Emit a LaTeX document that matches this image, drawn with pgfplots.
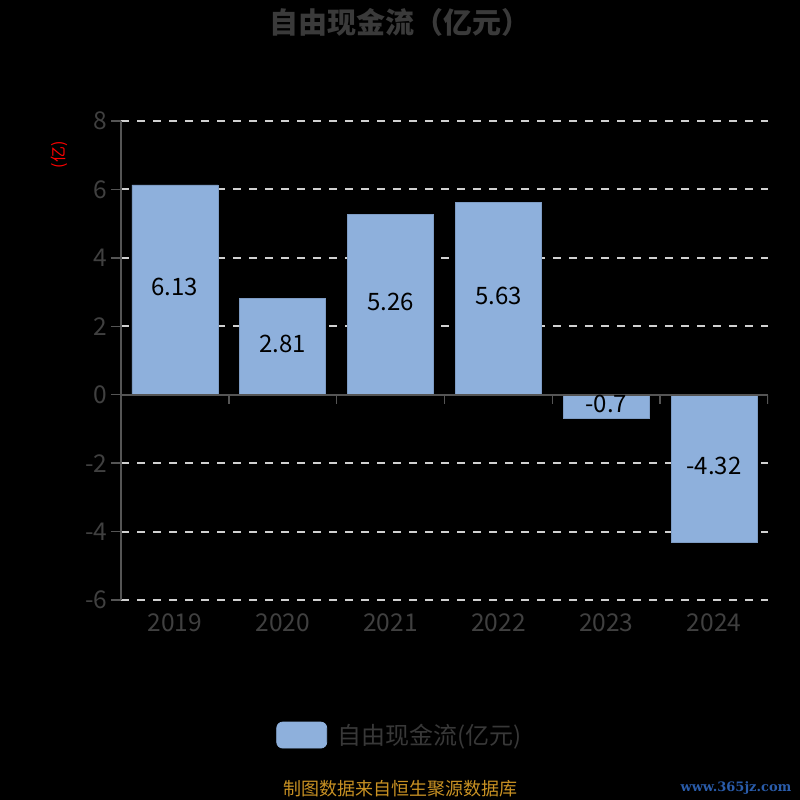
\documentclass[border=0pt]{standalone}
\usepackage{pgfplots}
\pgfplotsset{compat=1.18}
\usepackage{pgfplotstable}
\usepackage{fontspec}
\setmainfont{Noto Sans CJK SC}
\newfontfamily\wmfont{DejaVu Serif}
\definecolor{barblue}{HTML}{8EB0DC}
\definecolor{bardark}{HTML}{7E9CC4}
\definecolor{axisgray}{HTML}{555555}
\definecolor{gridgray}{HTML}{D0D0D0}
\definecolor{ticklabel}{HTML}{404040}
\definecolor{titlegray}{HTML}{3A3A3A}
\definecolor{legendgray}{HTML}{383838}
\definecolor{footer}{RGB}{200,145,35}
\definecolor{wmblue}{HTML}{2A5CAA}

\pgfplotstableread{
x y
0 6.13
1 2.81
2 5.26
3 5.63
4 -0.7
5 -4.32
}\fcf

\begin{document}
\begin{tikzpicture}
\fill[black] (0,0) rectangle (800pt,800pt);
\path[use as bounding box] (0,0) rectangle (800pt,800pt);
\node[font=\fontsize{29}{32}\selectfont\bfseries, text=titlegray] at (400pt,778pt) {自由现金流（亿元）};
\begin{axis}[
  at={(121pt,200pt)}, anchor=south west,
  width=647pt, height=479pt, scale only axis,
  xmin=-0.5, xmax=5.5, ymin=-6, ymax=8,
  xtick={0,1,2,3,4,5}, xticklabels={2019,2020,2021,2022,2023,2024},
  ytick={-6,-4,-2,0,2,4,6,8},
  axis x line*=bottom, axis y line*=left,
  x axis line style={draw=none},
  y axis line style={draw=axisgray, line width=1.5pt},
  major x tick style={draw=none},
  major y tick style={draw=axisgray, line width=1.5pt},
  tick align=outside, major tick length=10pt,
  ymajorgrids,
  major grid style={draw=gridgray, line width=2pt, dash pattern=on 8pt off 8pt},
  tick label style={font=\fontsize{24.5}{28}\selectfont, text=ticklabel},
  /pgf/number format/assume math mode=true,
  ylabel={(亿)},
  ylabel style={at={(axis description cs:-0.096,0.929)}, anchor=center, text=red, font=\fontsize{16}{18}\selectfont},
  legend style={at={(axis description cs:0.431,-0.282)}, anchor=center, draw=none, fill=none,
    font=\fontsize{24}{28}\selectfont, text=legendgray},
  legend image code/.code={\fill[barblue, rounded corners=6pt] (0pt,-13pt) rectangle (50pt,13pt); \path (58pt,0pt);},
]
\addplot[ybar, bar width=86pt, bar shift=0pt, fill=barblue, draw=bardark, line width=0.8pt] table[x=x,y=y]{\fcf};
\addlegendentry{自由现金流(亿元)}
\draw[axisgray, line width=2.2pt] (axis cs:-0.5,0) -- (axis cs:5.5,0);
\pgfplotsinvokeforeach{-0.5,0.5,1.5,2.5,3.5,4.5,5.5}{
  \draw[axisgray, line width=1.5pt] (axis cs:#1,0) -- ++(0pt,-9pt);
}
\addplot[forget plot, draw=none, mark=none, nodes near coords, point meta=explicit symbolic,
  nodes near coords style={anchor=center, yshift=2.5pt, font=\fontsize{24}{28}\selectfont, text=black}]
  table[x=x, y expr=\thisrow{y}/2, meta=y]{\fcf};
\end{axis}
\node[text=footer, font=\fontsize{18}{20}\selectfont] at (400pt,11pt) {制图数据来自恒生聚源数据库};
\node[text=wmblue, font=\wmfont\bfseries\fontsize{13}{15}\selectfont] at (736pt,12pt) {www.365jz.com};
\end{tikzpicture}
\end{document}
